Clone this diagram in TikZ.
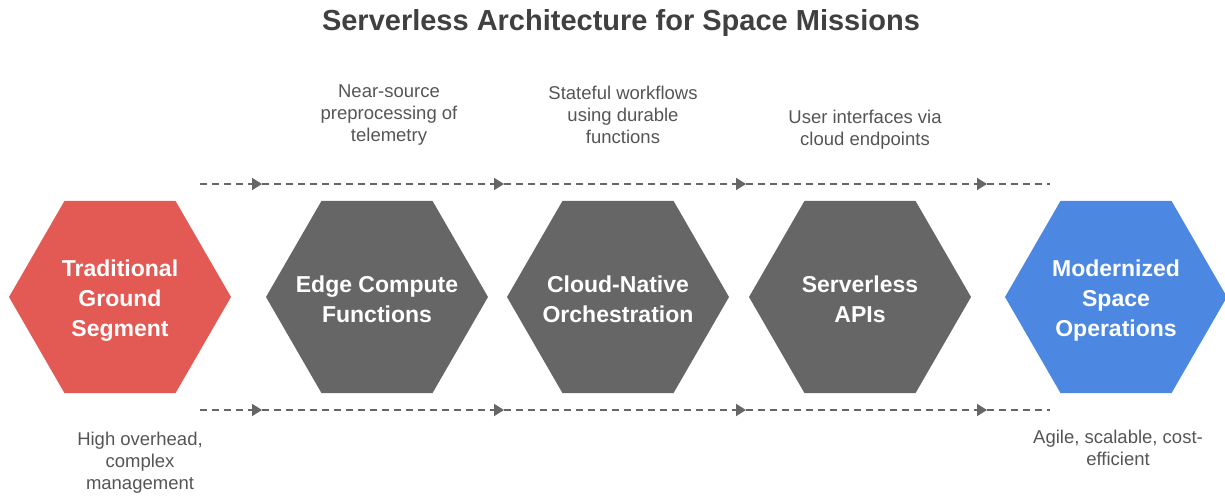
\documentclass[tikz,border=0pt]{standalone}
\usepackage{fontspec}
\setmainfont{Liberation Sans}
\usetikzlibrary{shapes.geometric,arrows.meta}
\definecolor{hred}{HTML}{E35A54}
\definecolor{hgray}{HTML}{666666}
\definecolor{hblue}{HTML}{4C88E2}
\definecolor{tgray}{HTML}{555555}
\definecolor{titlec}{HTML}{404040}
\tikzset{
  hex/.style={regular polygon, regular polygon sides=6, minimum size=222pt, inner sep=0pt},
  hextext/.style={text=white, font=\bfseries\fontsize{23}{30}\selectfont, align=center, inner sep=0pt},
  note/.style={text=tgray, font=\fontsize{18.5}{22}\selectfont, align=center, inner sep=0pt},
  flow/.style={hgray, line width=1.8pt, dash pattern=on 7pt off 5pt},
  flowarr/.style={flow, -{Triangle[length=10pt,width=12pt]}}
}
\begin{document}
\begin{tikzpicture}[x=1pt,y=-1pt]
\useasboundingbox (0,0) rectangle (1225,498);
\node[font=\bfseries\fontsize{29}{34}\selectfont, text=titlec] (title) at (621,23) {Serverless Architecture for Space Missions};
% flow lines
\foreach \y/\n in {184/t,410/b}{
  \coordinate (\n0) at (200,\y);
  \coordinate (\n1) at (262,\y);
  \coordinate (\n2) at (504,\y);
  \coordinate (\n3) at (746,\y);
  \coordinate (\n4) at (987,\y);
  \coordinate (\n5) at (1050,\y);
  \draw[flowarr] (\n0) -- (\n1);
  \draw[flowarr] (\n1) -- (\n2);
  \draw[flowarr] (\n2) -- (\n3);
  \draw[flowarr] (\n3) -- (\n4);
  \draw[flow] (\n4) -- (\n5);
}
\node[hex, fill=hred] (trad) at (120,297) {};
\node[hextext] (tradt) at ([yshift=-4pt]trad.center) {Traditional\\Ground\\Segment};
\node[hex, fill=hgray] (edge) at (377,297) {};
\node[hextext] (edget) at ([yshift=-2pt]edge.center) {Edge Compute\\Functions};
\node[hex, fill=hgray] (cloud) at (618,297) {};
\node[hextext] (cloudt) at ([yshift=-2pt]cloud.center) {Cloud-Native\\Orchestration};
\node[hex, fill=hgray] (api) at (860,297) {};
\node[hextext] (apit) at ([yshift=-2pt]api.center) {Serverless\\APIs};
\node[hex, fill=hblue] (mod) at (1116,297) {};
\node[hextext] (modt) at ([yshift=-4pt]mod.center) {Modernized\\Space\\Operations};
\node[note] (n1) at (389,115) {Near-source\\preprocessing of\\telemetry};
\node[note] (n2) at (623,115) {Stateful workflows\\using durable\\functions};
\node[note] (n3) at (865,130) {User interfaces via\\cloud endpoints};
\node[note] (n4) at (140,463) {High overhead,\\complex\\management};
\node[note] (n5) at (1118,448) {Agile, scalable, cost-\\efficient};
\end{tikzpicture}
\end{document}
